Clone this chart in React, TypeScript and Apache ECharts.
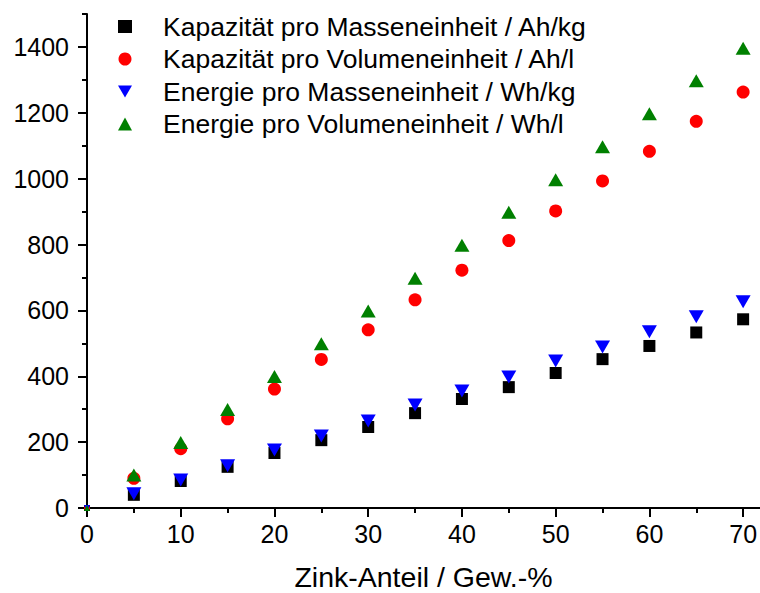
import { useEffect, useRef } from 'react';
import * as echarts from 'echarts';

// Zink-Anteil in Gew.-%
const zinkAnteil = [0, 5, 10, 15, 20, 25, 30, 35, 40, 45, 50, 55, 60, 65, 70];
// Kapazität pro Masseneinheit / Ah/kg
const kapMasse = [0, 40, 82, 125, 167, 206, 246, 288, 331, 367, 410, 452, 492, 533, 573];
// Kapazität pro Volumeneinheit / Ah/l
const kapVolumen = [0, 90, 180, 271, 361, 451, 541, 632, 722, 812, 902, 993, 1083, 1174, 1263];
// Energie pro Masseneinheit / Wh/kg
const energieMasse = [0, 43, 85, 128, 176, 219, 264, 313, 355, 398, 446, 489, 535, 581, 626];
// Energie pro Volumeneinheit / Wh/l
const energieVolumen = [0, 100, 199, 299, 399, 499, 598, 698, 798, 898, 997, 1097, 1197, 1297, 1396];

const seriesNames = [
  'Kapazität pro Masseneinheit / Ah/kg',
  'Kapazität pro Volumeneinheit / Ah/l',
  'Energie pro Masseneinheit / Wh/kg',
  'Energie pro Volumeneinheit / Wh/l',
];

// tick positions
const xMajorTicks = [0, 10, 20, 30, 40, 50, 60, 70];
const xMinorTicks = [0, 5, 10, 15, 20, 25, 30, 35, 40, 45, 50, 55, 60, 65, 70];
const yMajorTicks = [0, 200, 400, 600, 800, 1000, 1200, 1400];
const yMinorTicks = [0, 100, 200, 300, 400, 500, 600, 700, 800, 900, 1000, 1100, 1200, 1300, 1400, 1500];

const X_MAX = 71.8;
const Y_MAX = 1500;
const FONT = '"Liberation Sans", Arial, Helvetica, sans-serif';

// downward triangle for the legend entry of the Wh/kg series
const DOWN_TRIANGLE = 'path://M0,0 L2,0 L1,1.73 Z';

const toPoints = (ys: number[]) => zinkAnteil.map((x, i) => [x, ys[i]]);

// the origin points sit on the axes and are drawn much smaller
const sizeAt = (size: number | number[]) => (v: number[]) => (v[0] === 0 ? 6 : size);

export default function App() {
  const ref = useRef<HTMLDivElement>(null);

  useEffect(() => {
    if (!ref.current) return;
    const chart = echarts.init(ref.current, null, { renderer: 'svg' });

    const axisLineStyle = { color: '#000', width: 2 };

    const option: any = {
      animation: false,
      backgroundColor: '#fff',
      textStyle: { fontFamily: FONT, color: '#000' },
      grid: {
        left: 87,
        right: 0,
        top: 14,
        bottom: 85,
        containLabel: false,
        outerBoundsMode: 'none',
      },
      legend: {
        data: [
          { name: seriesNames[0] },
          { name: seriesNames[1] },
          { name: seriesNames[2], icon: DOWN_TRIANGLE },
          { name: seriesNames[3] },
        ],
        orient: 'vertical',
        left: 118,
        top: 13,
        padding: 0,
        itemWidth: 14,
        itemHeight: 13,
        itemGap: 5.5,
        symbolKeepAspect: true,
        textStyle: {
          fontSize: 26.5,
          color: '#000',
          fontFamily: FONT,
          padding: [0, 0, 0, 26],
        },
      },
      xAxis: [
        {
          type: 'value',
          min: 0,
          max: X_MAX,
          position: 'bottom',
          axisLine: { show: true, onZero: false, lineStyle: axisLineStyle },
          axisTick: { show: true, customValues: xMinorTicks, length: 5, lineStyle: axisLineStyle },
          axisLabel: { show: false },
          splitLine: { show: false },
        },
        {
          type: 'value',
          min: 0,
          max: X_MAX,
          position: 'bottom',
          gridIndex: 0,
          axisLine: { show: false, onZero: false },
          axisTick: { show: true, customValues: xMajorTicks, length: 9, lineStyle: axisLineStyle },
          axisLabel: {
            show: true,
            customValues: xMajorTicks,
            fontSize: 25,
            color: '#000',
            margin: 13,
            fontFamily: FONT,
          },
          splitLine: { show: false },
          name: 'Zink-Anteil / Gew.-%',
          nameLocation: 'middle',
          nameGap: 54,
          nameTextStyle: { fontSize: 28.5, color: '#000', fontFamily: FONT },
        },
      ],
      yAxis: [
        {
          type: 'value',
          min: 0,
          max: Y_MAX,
          position: 'left',
          axisLine: { show: true, onZero: false, lineStyle: axisLineStyle },
          axisTick: { show: true, customValues: yMinorTicks, length: 5, lineStyle: axisLineStyle },
          axisLabel: { show: false },
          splitLine: { show: false },
        },
        {
          type: 'value',
          min: 0,
          max: Y_MAX,
          position: 'left',
          gridIndex: 0,
          axisLine: { show: false, onZero: false },
          axisTick: { show: true, customValues: yMajorTicks, length: 9, lineStyle: axisLineStyle },
          axisLabel: {
            show: true,
            customValues: yMajorTicks,
            formatter: (v: number) => String(v),
            fontSize: 25,
            color: '#000',
            margin: 18,
            fontFamily: FONT,
          },
          splitLine: { show: false },
        },
      ],
      series: [
        {
          name: seriesNames[0],
          type: 'scatter',
          data: toPoints(kapMasse),
          symbol: 'rect',
          symbolSize: sizeAt(12),
          symbolKeepAspect: true,
          itemStyle: { color: '#000000', opacity: 1 },
        },
        {
          name: seriesNames[1],
          type: 'scatter',
          data: toPoints(kapVolumen),
          symbol: 'circle',
          symbolSize: sizeAt(13),
          symbolKeepAspect: true,
          itemStyle: { color: '#ff0000', opacity: 1 },
        },
        {
          name: seriesNames[2],
          type: 'scatter',
          data: toPoints(energieMasse),
          symbol: 'triangle',
          symbolRotate: 180,
          symbolSize: sizeAt([15, 13]),
          itemStyle: { color: '#0000ff', opacity: 1 },
        },
        {
          name: seriesNames[3],
          type: 'scatter',
          data: toPoints(energieVolumen),
          symbol: 'triangle',
          symbolSize: sizeAt([15, 13]),
          itemStyle: { color: '#008000', opacity: 1 },
        },
      ],
    };

    chart.setOption(option);
    return () => chart.dispose();
  }, []);

  return (
    <div
      ref={ref}
      style={{ position: 'absolute', left: 0, top: 0, width: 760, height: 593 }}
    />
  );
}
